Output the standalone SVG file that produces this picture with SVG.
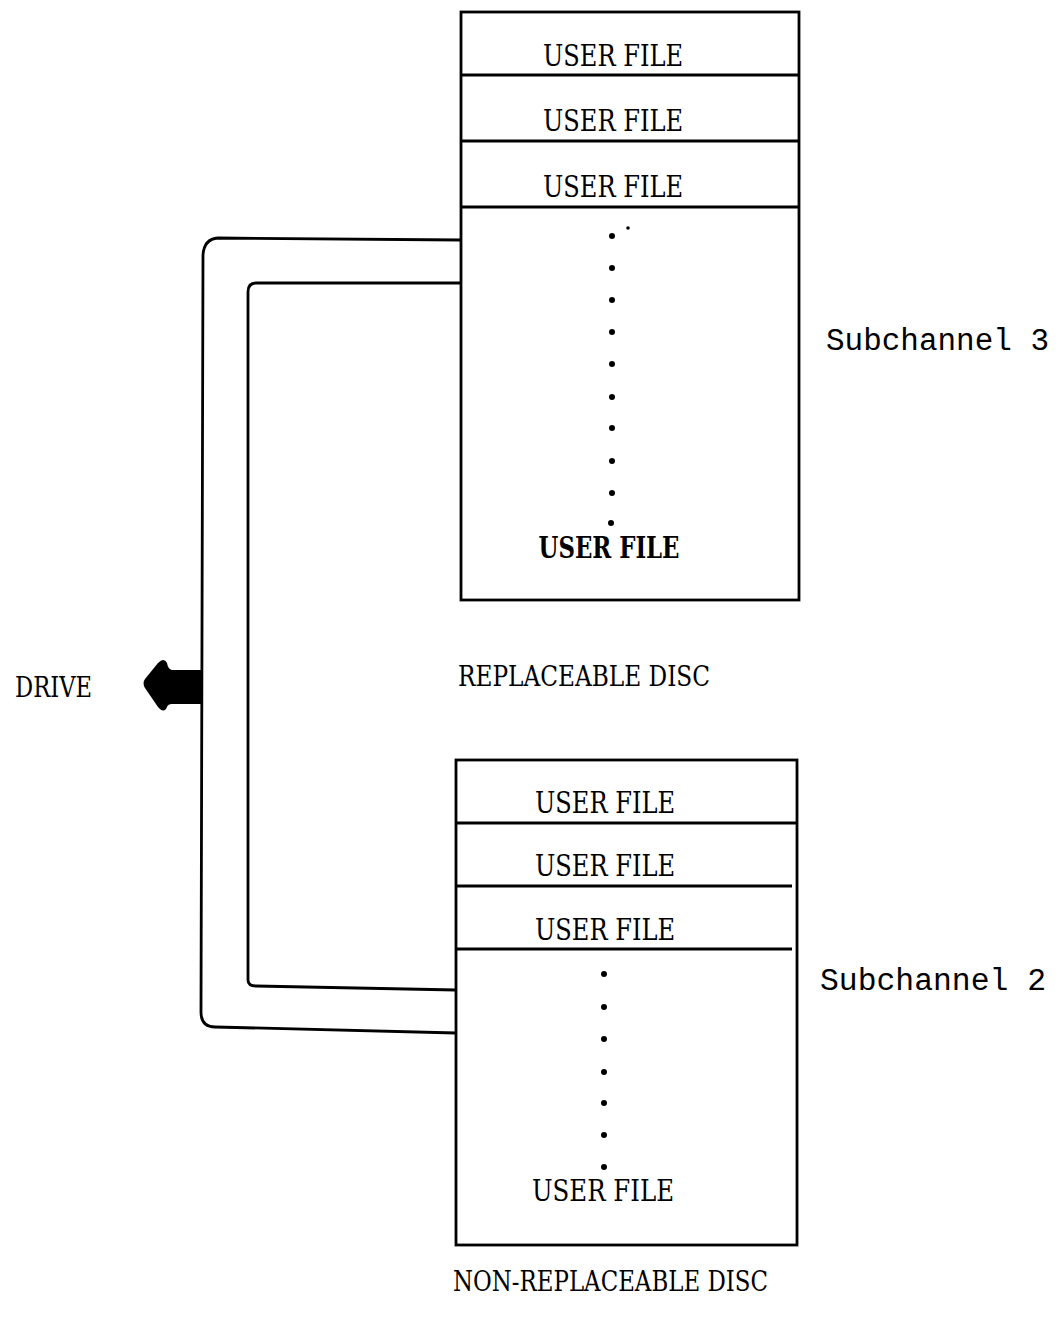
<svg xmlns="http://www.w3.org/2000/svg" width="1063" height="1319" viewBox="0 0 1063 1319">
<style>
.box{fill:none;stroke:#000;stroke-width:2.8}
.div{stroke:#000;stroke-width:3.2}
.conn{fill:none;stroke:#000;stroke-width:2.8;stroke-linejoin:round}
.uf{font-family:"DejaVu Serif","Liberation Serif",serif;font-size:29px;fill:#000;text-anchor:middle}
.lbl{font-family:"DejaVu Serif","Liberation Serif",serif;font-size:27px;fill:#000}
.sub{font-family:"Liberation Mono",monospace;font-size:31px;fill:#000}
.dot{fill:#000}
</style>
<rect width="1063" height="1319" fill="#fff"/>
<g id="connectors">
<path class="conn" d="M461,240 L218,238 Q204,239 203,255 L201,1012 Q201,1027 215,1027 L456,1033"/>
<path class="conn" d="M461,283 L256,283 Q248,283 248,292 L248,980 Q248,986 256,986 L456,990"/>
<path id="drive-arrow" fill="#000" d="M201,670 L172,670 Q168,669 167,663 Q164,657 158,663 L145,679 Q142,683 145,688 L158,707 Q164,714 167,707 Q168,704 172,704 L201,704 Z"/>
</g>
<g id="replaceable-disc">
<rect class="box" x="461" y="12" width="338" height="588"/>
<line class="div" x1="461" y1="75" x2="799" y2="75"/>
<line class="div" x1="461" y1="141" x2="799" y2="141"/>
<line class="div" x1="461" y1="207" x2="799" y2="207"/>
<text class="uf" x="613" y="66" textLength="140" lengthAdjust="spacingAndGlyphs">USER FILE</text>
<text class="uf" x="613" y="131" textLength="140" lengthAdjust="spacingAndGlyphs">USER FILE</text>
<text class="uf" x="613" y="197" textLength="140" lengthAdjust="spacingAndGlyphs">USER FILE</text>
<g class="dot">
<circle cx="612" cy="236" r="3"/><circle cx="628" cy="228" r="1.8"/>
<circle cx="612" cy="268" r="3"/><circle cx="612" cy="300" r="3"/>
<circle cx="612" cy="332" r="3"/><circle cx="612" cy="364" r="3"/>
<circle cx="612" cy="397" r="3"/><circle cx="612" cy="428" r="3"/>
<circle cx="612" cy="461" r="3"/><circle cx="612" cy="493" r="3"/>
<circle cx="611" cy="523" r="3"/>
</g>
<text class="uf" x="609" y="558" textLength="141" lengthAdjust="spacingAndGlyphs" font-weight="bold">USER FILE</text>
<text class="lbl" x="458" y="686" textLength="252" lengthAdjust="spacingAndGlyphs">REPLACEABLE DISC</text>
</g>
<g id="non-replaceable-disc">
<rect class="box" x="456" y="760" width="341" height="485"/>
<line class="div" x1="456" y1="823" x2="797" y2="823"/>
<line class="div" x1="456" y1="886" x2="792" y2="886"/>
<line class="div" x1="456" y1="949" x2="792" y2="949"/>
<text class="uf" x="605" y="813" textLength="140" lengthAdjust="spacingAndGlyphs">USER FILE</text>
<text class="uf" x="605" y="876" textLength="140" lengthAdjust="spacingAndGlyphs">USER FILE</text>
<text class="uf" x="605" y="940" textLength="140" lengthAdjust="spacingAndGlyphs">USER FILE</text>
<g class="dot">
<circle cx="604" cy="974" r="3"/><circle cx="604" cy="1007" r="3"/>
<circle cx="604" cy="1039" r="3"/><circle cx="604" cy="1072" r="3"/>
<circle cx="604" cy="1103" r="3"/><circle cx="604" cy="1135" r="3"/>
<circle cx="604" cy="1167" r="3"/>
</g>
<text class="uf" x="603" y="1201" textLength="142" lengthAdjust="spacingAndGlyphs">USER FILE</text>
<text class="lbl" x="453" y="1291" textLength="315" lengthAdjust="spacingAndGlyphs">NON-REPLACEABLE DISC</text>
</g>
<g id="drive-label">
<text class="lbl" x="15" y="697" textLength="77" lengthAdjust="spacingAndGlyphs">DRIVE</text>
</g>
<g id="subchannel-3">
<text class="sub" x="826" y="350" textLength="223" lengthAdjust="spacingAndGlyphs">Subchannel 3</text>
</g>
<g id="subchannel-2">
<text class="sub" x="820" y="990" textLength="226" lengthAdjust="spacingAndGlyphs">Subchannel 2</text>
</g>
</svg>
